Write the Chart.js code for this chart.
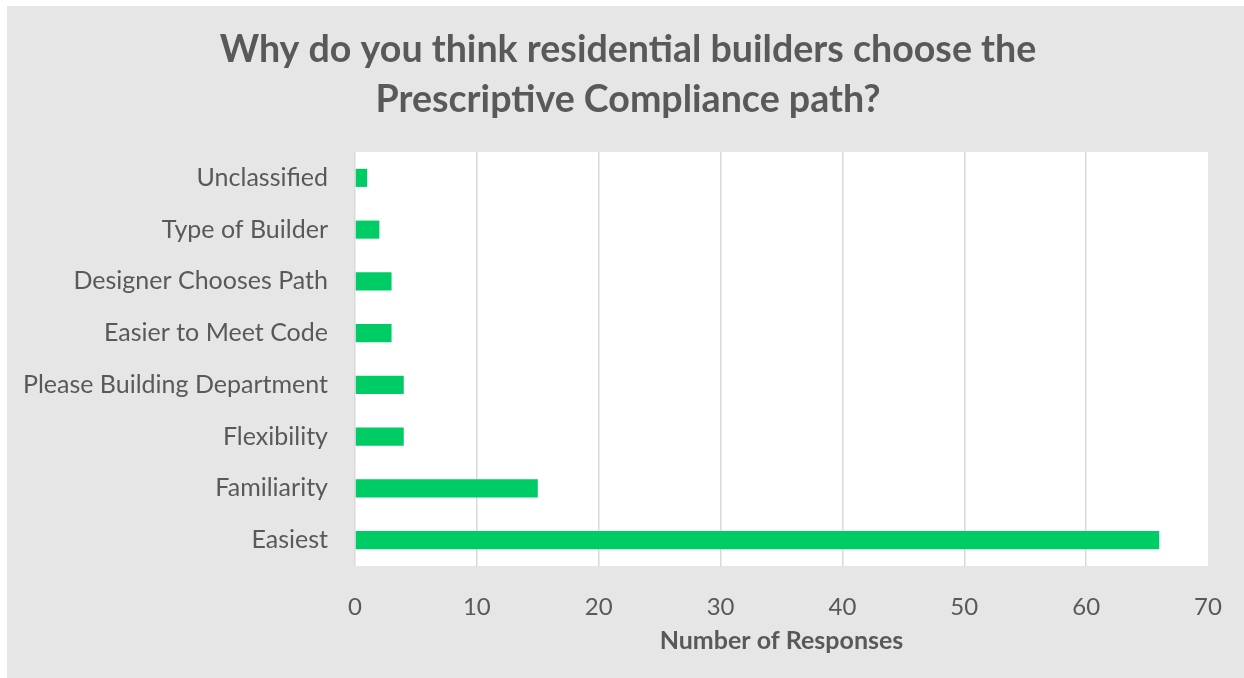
<!DOCTYPE html>
<html>
<head>
<meta charset="utf-8">
<script src="https://cdn.jsdelivr.net/npm/chart.js@4"></script>
<style>
  html, body { margin: 0; padding: 0; background: #ffffff; }
  #wrap { position: absolute; left: 7px; top: 6px; width: 1237px; height: 672px; background: #e6e6e6; }
</style>
</head>
<body>
<div id="wrap"><canvas id="reasonChart" width="1237" height="672"></canvas></div>
<script>
// survey answers, top to bottom
var reasons = ['Unclassified', 'Type of Builder', 'Designer Chooses Path', 'Easier to Meet Code',
    'Please Building Department', 'Flexibility', 'Familiarity', 'Easiest'];
var responses = [1, 2, 3, 3, 4, 4, 15, 66];
var titleLines = ['Why do you think residential builders choose the', 'Prescriptive Compliance path?'];
var axisTitle = 'Number of Responses';
var axisMax = 70;

var textColor = '#595959';

// white plot area on the gray chart background
var plotBackground = {
    id: 'plotBackground',
    beforeDraw: function(chart) {
        var a = chart.chartArea;
        var ctx = chart.ctx;
        ctx.save();
        ctx.fillStyle = '#ffffff';
        ctx.fillRect(a.left, a.top, a.right - a.left, a.bottom - a.top);
        ctx.restore();
    }
};

// two-line heading centred on the whole canvas
var heading = {
    id: 'heading',
    afterDraw: function(chart) {
        var ctx = chart.ctx;
        ctx.save();
        ctx.fillStyle = textColor;
        ctx.font = 'bold 37.6px Lato';
        ctx.textAlign = 'center';
        ctx.textBaseline = 'middle';
        ctx.fillText(titleLines[0], 621, 44);
        ctx.fillText(titleLines[1], 621, 94);
        ctx.restore();
    }
};

var ctx = document.getElementById('reasonChart').getContext('2d');
var chart = new Chart(ctx, {
    type: 'bar',
    data: {
        labels: reasons,
        datasets: [{
            data: responses,
            backgroundColor: '#00cc66',
            borderWidth: 0,
            barPercentage: 0.35,
            categoryPercentage: 1
        }]
    },
    options: {
        indexAxis: 'y',
        responsive: false,
        animation: false,
        layout: { padding: { left: 0, right: 36, top: 146, bottom: 0 } },
        plugins: {
            legend: { display: false },
            tooltip: { enabled: false },
            title: { display: false }
        },
        scales: {
            x: {
                min: 0,
                max: axisMax,
                ticks: {
                    stepSize: 10,
                    color: textColor,
                    font: { family: 'Lato', size: 24 },
                    padding: 27
                },
                grid: {
                    // no line on the right edge of the plot
                    color: function(c) {
                        return c.tick && c.tick.value === axisMax ? 'rgba(0,0,0,0)' : '#d9d9d9';
                    },
                    lineWidth: 1.5,
                    drawTicks: false
                },
                border: { display: false },
                title: {
                    display: true,
                    text: axisTitle,
                    color: textColor,
                    font: { family: 'Lato', size: 25, weight: 'bold' },
                    padding: { top: 0, bottom: 22 }
                },
                afterFit: function(scale) {
                    scale.height = 112;
                    scale.paddingLeft = 0;
                    scale.paddingRight = 0;
                }
            },
            y: {
                ticks: {
                    color: textColor,
                    font: { family: 'Lato', size: 25 },
                    padding: 27
                },
                grid: { display: false, drawTicks: false },
                border: { display: false },
                afterFit: function(scale) { scale.width = 348; }
            }
        }
    },
    plugins: [plotBackground, heading]
});
</script>
</body>
</html>
